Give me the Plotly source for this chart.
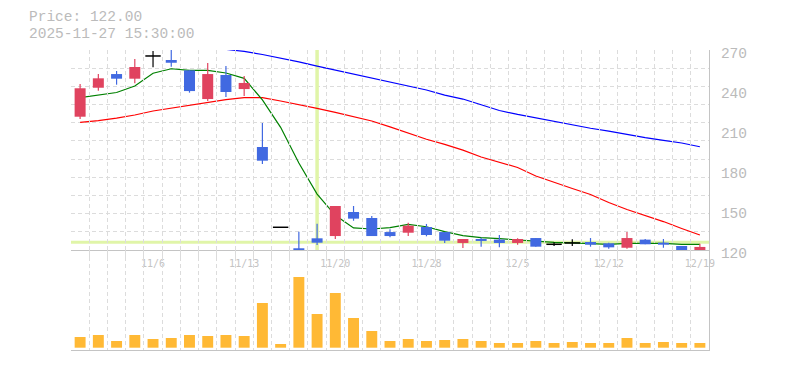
import plotly.graph_objects as go

# ---------------- data ----------------
dates = ["10/30", "10/31", "11/4", "11/5", "11/6", "11/7", "11/10", "11/11", "11/12", "11/13",
         "11/14", "11/17", "11/18", "11/19", "11/20", "11/21", "11/25", "11/26", "11/27", "11/28",
         "12/1", "12/2", "12/3", "12/4", "12/5", "12/8", "12/9", "12/10", "12/11", "12/12",
         "12/15", "12/16", "12/17", "12/18", "12/19"]

open_ = [222.3, 244.1, 254.4, 250.9, 268.0, 265.0, 257.2, 235.6, 253.7, 243.1,
         199.5, 139.1, 123.3, 130.8, 132.5, 150.6, 146.1, 135.5, 135.0, 139.3,
         135.5, 127.3, 130.3, 129.8, 127.3, 131.0, 126.3, 127.3, 128.0, 127.0,
         123.7, 129.8, 127.5, 125.0, 122.0]
high = [246.9, 254.4, 256.7, 265.7, 271.7, 272.5, 257.2, 262.7, 260.4, 252.9,
        217.6, 139.1, 135.8, 141.8, 155.1, 155.1, 147.6, 137.6, 142.5, 141.6,
        135.5, 130.3, 131.3, 133.3, 130.8, 131.0, 127.8, 130.1, 131.0, 127.5,
        135.5, 130.3, 130.3, 125.0, 126.7]
low = [220.6, 241.9, 246.4, 247.4, 259.5, 259.9, 240.4, 234.1, 237.1, 237.9,
       186.7, 139.1, 122.0, 125.8, 130.3, 144.0, 132.5, 131.6, 132.5, 132.3,
       127.3, 123.5, 124.5, 124.0, 126.0, 124.5, 125.0, 125.0, 124.5, 123.0,
       123.0, 126.3, 123.7, 122.0, 122.0]
close = [243.7, 251.2, 250.9, 259.7, 268.0, 262.9, 241.6, 254.4, 240.9, 247.7,
         189.2, 139.1, 122.0, 127.5, 155.1, 145.6, 132.5, 132.5, 140.3, 133.3,
         129.0, 130.3, 128.8, 127.3, 130.3, 124.5, 126.3, 127.3, 126.0, 124.0,
         131.0, 126.3, 126.0, 122.0, 124.3]
volume = [107000, 127000, 67000, 127000, 87000, 97000, 127000, 117000, 127000, 117000,
          447000, 37000, 707000, 337000, 547000, 297000, 167000, 67000, 87000, 67000,
          77000, 87000, 67000, 47000, 47000, 67000, 47000, 57000, 47000, 47000,
          97000, 47000, 57000, 47000, 47000]

ma_short = [236.7, 238.6, 240.5, 245.4, 255.0, 258.4, 257.2, 257.2, 255.2, 251.2,
            234.9, 214.3, 187.5, 164.1, 148.1, 138.6, 137.8, 138.8, 141.3, 139.5,
            135.8, 132.8, 131.3, 130.5, 129.5, 128.5, 127.8, 127.3, 127.0, 126.3,
            127.0, 127.0, 127.0, 126.3, 126.3]
ma_mid = [218.1, 219.4, 221.3, 223.6, 226.6, 228.8, 230.7, 233.4, 235.2, 236.6,
          236.6, 234.1, 231.5, 228.6, 225.5, 222.5, 219.1, 214.6, 209.7, 205.3,
          201.5, 197.2, 192.0, 187.8, 184.1, 177.7, 172.8, 168.3, 163.8, 157.7,
          152.5, 148.0, 143.4, 138.2, 133.3]
ma_long = [None, None, None, None, None, None, None, None, 273.0, 271.4,
           269.1, 266.5, 263.5, 260.4, 257.4, 254.8, 251.8, 248.8, 245.8, 242.4,
           238.6, 235.6, 231.3, 227.0, 224.0, 221.3, 218.7, 216.1, 213.6, 211.5,
           208.9, 206.6, 204.5, 202.5, 199.7]

tick_dates = ["11/6", "11/13", "11/20", "11/28", "12/5", "12/12", "12/19"]
price_ticks = [120, 150, 180, 210, 240, 270]

cross_date = "11/19"
cross_price = 127.8
info_lines = ["Price: 122.00", "2025-11-27 15:30:00"]

# ---------------- styling ----------------
RED = "#e0435f"
BLUE = "#4169e1"
ORANGE = "#ffb935"
GRID = "#dcdcdc"
AXIS = "#c4c4c4"
TEXT = "#bbbbbb"
CROSS = "#e0f5a8"
MONO = "Liberation Mono, DejaVu Sans Mono, monospace"
BODY_PX = 11

n = len(dates)
x = list(range(n))
lo = min(low)
hi = max(high)

price_dom = [1 / 3, 1.0]
vol_dom = [0.0, 1 / 3]
label_dom = [0.30, 1.0]
label_lo = lo - (hi - lo) * (price_dom[0] - label_dom[0]) / (price_dom[1] - price_dom[0])

up = [i for i in x if close[i] > open_[i]]
dn = [i for i in x if close[i] < open_[i]]
dj = [i for i in x if close[i] == open_[i]]


def segments(sel, a, b):
    xs, ys = [], []
    for i in sel:
        xs += [i, i, None]
        ys += [a[i], b[i], None]
    return xs, ys


fig = go.Figure()

# crosshair (drawn first, beneath everything else)
ci = dates.index(cross_date)
fig.add_trace(go.Scatter(x=[ci, ci], y=[lo, hi], mode="lines",
                         line=dict(color=CROSS, width=3.5), xaxis="x", yaxis="y",
                         hoverinfo="skip"))
fig.add_trace(go.Scatter(x=[-0.5, n - 0.5], y=[cross_price, cross_price], mode="lines",
                         line=dict(color=CROSS, width=3), xaxis="x", yaxis="y",
                         hoverinfo="skip"))

# moving averages (under candles)
for ma, col in [(ma_long, "#0000ff"), (ma_mid, "#ff0000"), (ma_short, "#008000")]:
    fig.add_trace(go.Scatter(x=x, y=ma, mode="lines", line=dict(color=col, width=1.2),
                             xaxis="x", yaxis="y", hoverinfo="skip", connectgaps=False))

# wicks
for sel, col in [(up, RED), (dn, BLUE), (dj, "#000000")]:
    wx, wy = segments(sel, low, high)
    fig.add_trace(go.Scatter(x=wx, y=wy, mode="lines", line=dict(color=col, width=1.2),
                             xaxis="x", yaxis="y", hoverinfo="skip"))

# bodies (thick segments from open to close)
for sel, col in [(up, RED), (dn, BLUE)]:
    bx, by = segments(sel, open_, close)
    fig.add_trace(go.Scatter(x=bx, y=by, mode="lines", line=dict(color=col, width=BODY_PX),
                             xaxis="x", yaxis="y", hoverinfo="skip"))

# doji bars
fig.add_trace(go.Scatter(x=dj, y=[close[i] for i in dj], mode="markers",
                         marker=dict(symbol="line-ew", size=BODY_PX, color="#000000",
                                     line=dict(width=1.5, color="#000000")),
                         xaxis="x", yaxis="y", hoverinfo="skip"))

# volume
fig.add_trace(go.Bar(x=x, y=volume, width=0.6, marker=dict(color=ORANGE, line=dict(width=0)),
                     xaxis="x2", yaxis="y2"))

# label-only axis host
fig.add_trace(go.Scatter(x=[None], y=[None], xaxis="x", yaxis="y3", hoverinfo="skip"))

boundaries = [i - 0.5 for i in range(n + 1)]
minor_x = dict(tickmode="array", tickvals=boundaries, showgrid=True, gridcolor=GRID,
               griddash="4px,3px", gridwidth=1, ticks="")
grid_y = [lo + (hi - lo) * k / 11 for k in range(1, 11)] + [hi - 0.01]

fig.update_layout(
    width=785, height=370, autosize=False,
    margin=dict(l=63, r=84, t=42, b=28, pad=0),
    paper_bgcolor="white", plot_bgcolor="rgba(0,0,0,0)",
    showlegend=False, hovermode=False, barmode="overlay",
    template="none",
    xaxis=dict(domain=[0, 1], anchor="y", range=[-0.5, n - 0.5], tickmode="array",
               tickvals=[dates.index(d) for d in tick_dates], ticktext=tick_dates,
               ticks="outside", ticklen=4, tickcolor="rgba(0,0,0,0)",
               tickfont=dict(family="DejaVu Sans Mono, monospace", size=10, color="#c4c4c4"),
               showgrid=False, minor=minor_x, showline=True, linecolor=AXIS, linewidth=1,
               zeroline=False),
    xaxis2=dict(domain=[0, 1], anchor="y2", matches="x", range=[-0.5, n - 0.5],
                showticklabels=False, ticks="", showgrid=False, minor=minor_x,
                showline=True, linecolor=AXIS, linewidth=1, zeroline=False),
    yaxis=dict(domain=price_dom, anchor="x", range=[lo, hi], side="right",
               showticklabels=False, ticks="", showgrid=False, zeroline=False,
               showline=True, linecolor=AXIS, linewidth=1,
               minor=dict(tickmode="array", tickvals=grid_y, showgrid=True, gridcolor=GRID,
                          griddash="4px,3px", gridwidth=1, ticks="")),
    yaxis2=dict(domain=vol_dom, anchor="x2", range=[-23000, 977000], side="right",
                showticklabels=False, ticks="", showgrid=False, zeroline=False,
                showline=True, linecolor=AXIS, linewidth=1),
    yaxis3=dict(domain=label_dom, anchor="free", position=1, side="right",
                range=[label_lo, hi], tickmode="array", tickvals=price_ticks,
                ticks="outside", ticklen=8, tickcolor="rgba(0,0,0,0)",
                tickfont=dict(family=MONO, size=14.5, color=TEXT),
                showgrid=False, zeroline=False, showline=False),
    annotations=[
        dict(text=info_lines[0], xref="paper", yref="paper", x=-0.067, y=1.111,
             xanchor="left", yanchor="middle", showarrow=False, borderpad=0,
             font=dict(family=MONO, size=14.5, color=TEXT)),
        dict(text=info_lines[1], xref="paper", yref="paper", x=-0.067, y=1.055,
             xanchor="left", yanchor="middle", showarrow=False, borderpad=0,
             font=dict(family=MONO, size=14.5, color=TEXT)),
    ],
)

fig.write_html("out.html", config={"displayModeBar": False})
